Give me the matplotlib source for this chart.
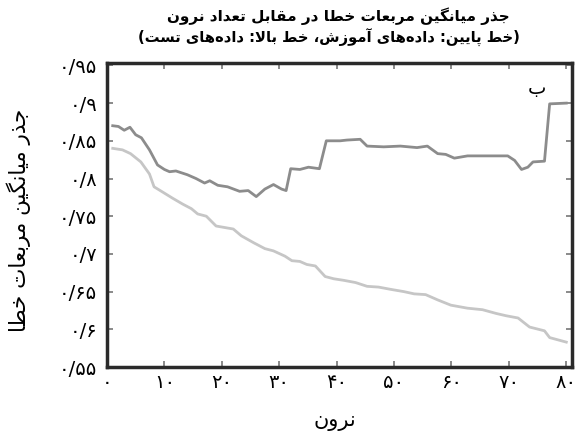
import numpy as np
import matplotlib
matplotlib.use("Agg")
from matplotlib import pyplot as plt
from matplotlib.ticker import FixedLocator, FuncFormatter

# neurons vs RMSE
test_x = [1, 2, 3, 4, 5, 6, 7.4, 8.8, 10, 10.9, 12, 14, 15.5, 17, 17.9, 19.3, 21, 23.1, 24.6, 26,
          27.5, 29, 30.4, 31.2, 32, 33.6, 35.1, 37, 38.2, 40.6, 41.8, 44.1, 45.3, 48.2, 51.1, 54,
          55.8, 57.6, 59, 60.5, 62.8, 65.1, 67.5, 69.8, 71, 72.2, 73.3, 74.2, 76.2, 77.1, 80]
test_y = [0.870, 0.869, 0.864, 0.868, 0.858, 0.854, 0.838, 0.818, 0.812, 0.809, 0.810, 0.805,
          0.800, 0.794, 0.797, 0.791, 0.789, 0.783, 0.784, 0.776, 0.786, 0.792, 0.786, 0.784,
          0.813, 0.812, 0.815, 0.813, 0.850, 0.850, 0.851, 0.852, 0.843, 0.842, 0.843, 0.841,
          0.843, 0.833, 0.832, 0.827, 0.830, 0.830, 0.830, 0.830, 0.824, 0.812, 0.815, 0.822,
          0.823, 0.899, 0.900]

train_x = [1, 2.7, 4.1, 5.9, 7.4, 8.2, 9.7, 11.4, 13.2, 14.7, 15.8, 17.3, 19, 20.5, 22, 23.4, 25.5,
           27.5, 29, 31, 32.2, 33.6, 34.8, 36.3, 38, 39.5, 41.2, 43.3, 45.3, 47.3, 49.4, 51.7, 53.5,
           55.5, 57.6, 59.9, 62.8, 65.4, 67.8, 69.5, 71.6, 73.6, 76.2, 77.1, 80]
train_y = [0.840, 0.838, 0.833, 0.822, 0.806, 0.789, 0.782, 0.774, 0.766, 0.760, 0.753, 0.750,
           0.737, 0.735, 0.733, 0.724, 0.715, 0.707, 0.704, 0.697, 0.691, 0.690, 0.686, 0.684,
           0.670, 0.667, 0.665, 0.662, 0.657, 0.656, 0.653, 0.650, 0.647, 0.646, 0.639, 0.632,
           0.628, 0.626, 0.621, 0.618, 0.615, 0.603, 0.598, 0.589, 0.583]

x_ticks = [0, 10, 20, 30, 40, 50, 60, 70, 80]
y_ticks = [0.55, 0.6, 0.65, 0.7, 0.75, 0.8, 0.85, 0.9, 0.95]

title1 = "جذر میانگین مربعات خطا در مقابل تعداد نرون"
title2 = "(خط پایین: داده‌های آموزش، خط بالا: داده‌های تست)"
ylab = "جذر میانگین مربعات خطا"
xlab = "نرون"
panel = "ب"

# matplotlib has no arabic shaping, so do it by hand with presentation forms
# (isolated, final, initial, medial); two entries = joins only to the right
FORMS = {
    'ا': (0xFE8D, 0xFE8E), 'آ': (0xFE81, 0xFE82), 'د': (0xFEA9, 0xFEAA), 'ذ': (0xFEAB, 0xFEAC),
    'ر': (0xFEAD, 0xFEAE), 'ز': (0xFEAF, 0xFEB0), 'و': (0xFEED, 0xFEEE),
    'ب': (0xFE8F, 0xFE90, 0xFE91, 0xFE92), 'ت': (0xFE95, 0xFE96, 0xFE97, 0xFE98),
    'ج': (0xFE9D, 0xFE9E, 0xFE9F, 0xFEA0), 'خ': (0xFEA5, 0xFEA6, 0xFEA7, 0xFEA8),
    'س': (0xFEB1, 0xFEB2, 0xFEB3, 0xFEB4), 'ش': (0xFEB5, 0xFEB6, 0xFEB7, 0xFEB8),
    'ط': (0xFEC1, 0xFEC2, 0xFEC3, 0xFEC4), 'ع': (0xFEC9, 0xFECA, 0xFECB, 0xFECC),
    'ق': (0xFED5, 0xFED6, 0xFED7, 0xFED8), 'ل': (0xFEDD, 0xFEDE, 0xFEDF, 0xFEE0),
    'م': (0xFEE1, 0xFEE2, 0xFEE3, 0xFEE4), 'ن': (0xFEE5, 0xFEE6, 0xFEE7, 0xFEE8),
    'ه': (0xFEE9, 0xFEEA, 0xFEEB, 0xFEEC), 'ی': (0xFBFC, 0xFBFD, 0xFBFE, 0xFBFF),
    'گ': (0xFB92, 0xFB93, 0xFB94, 0xFB95), 'پ': (0xFB56, 0xFB57, 0xFB58, 0xFB59),
    'ک': (0xFB8E, 0xFB8F, 0xFB90, 0xFB91),
}

def fa(s):
    out = []
    i = 0
    while i < len(s):
        c = s[i]
        if c == '\u200c':
            # zero width non-joiner: just breaks the joining
            i += 1
            continue
        if c not in FORMS:
            out.append(c)
            i += 1
            continue
        prev = s[i - 1] if i > 0 else ''
        nxt = s[i + 1] if i + 1 < len(s) else ''
        join_prev = prev in FORMS and len(FORMS[prev]) == 4
        if c == 'ل' and nxt in ('ا', 'آ'):
            if nxt == 'ا':
                out.append(chr(0xFEFC if join_prev else 0xFEFB))
            else:
                out.append(chr(0xFEF6 if join_prev else 0xFEF5))
            i += 2
            continue
        f = FORMS[c]
        join_next = len(f) == 4 and nxt in FORMS
        if join_prev and join_next:
            k = 3
        elif join_next:
            k = 2
        elif join_prev:
            k = 1
        else:
            k = 0
        out.append(chr(f[k]))
        i += 1
    vis = ''.join(out)[::-1]
    return vis.translate(str.maketrans('()', ')('))

def fa_num(v):
    s = ('%g' % v)
    s = s.replace('.', '/')
    return s.translate(str.maketrans('0123456789', '۰۱۲۳۴۵۶۷۸۹'))

plt.rcParams['font.family'] = ['DejaVu Sans']

fig = plt.figure(figsize=(5.77, 4.41), dpi=100)
ax = fig.add_axes([0.1854, 0.1678, 0.806, 0.689])

ax.plot(test_x, test_y, color='#8c8c8c', lw=2)
ax.plot(train_x, train_y, color='#c6c6c6', lw=2)

ax.set_xlim(0, 81)
ax.set_ylim(0.55, 0.953)
ax.xaxis.set_major_locator(FixedLocator(x_ticks))
ax.yaxis.set_major_locator(FixedLocator(y_ticks))
ax.xaxis.set_major_formatter(FuncFormatter(lambda v, p: fa_num(v)))
ax.yaxis.set_major_formatter(FuncFormatter(lambda v, p: fa_num(round(v, 2))))
ax.tick_params(direction='in', top=True, right=True, length=4, width=1.2,
               color='#777777', labelsize=14, pad=7)
ax.tick_params(axis='x', pad=4)
for sp in ax.spines.values():
    sp.set_linewidth(2.5)
    sp.set_color('#2a2a2a')

ax.text(74.8, 0.92, fa(panel), fontsize=14, ha='center', va='center')

fig.text(0.586, 0.963, fa(title1), fontsize=11, fontweight='bold', ha='center', va='center')
fig.text(0.57, 0.915, fa(title2), fontsize=10.6, fontweight='bold', ha='center', va='center')
fig.text(0.032, 0.5, fa(ylab), fontsize=15.5, rotation=90, ha='center', va='center')
fig.text(0.58, 0.045, fa(xlab), fontsize=15, ha='center', va='center')

fig.savefig('out.png', dpi=100)
